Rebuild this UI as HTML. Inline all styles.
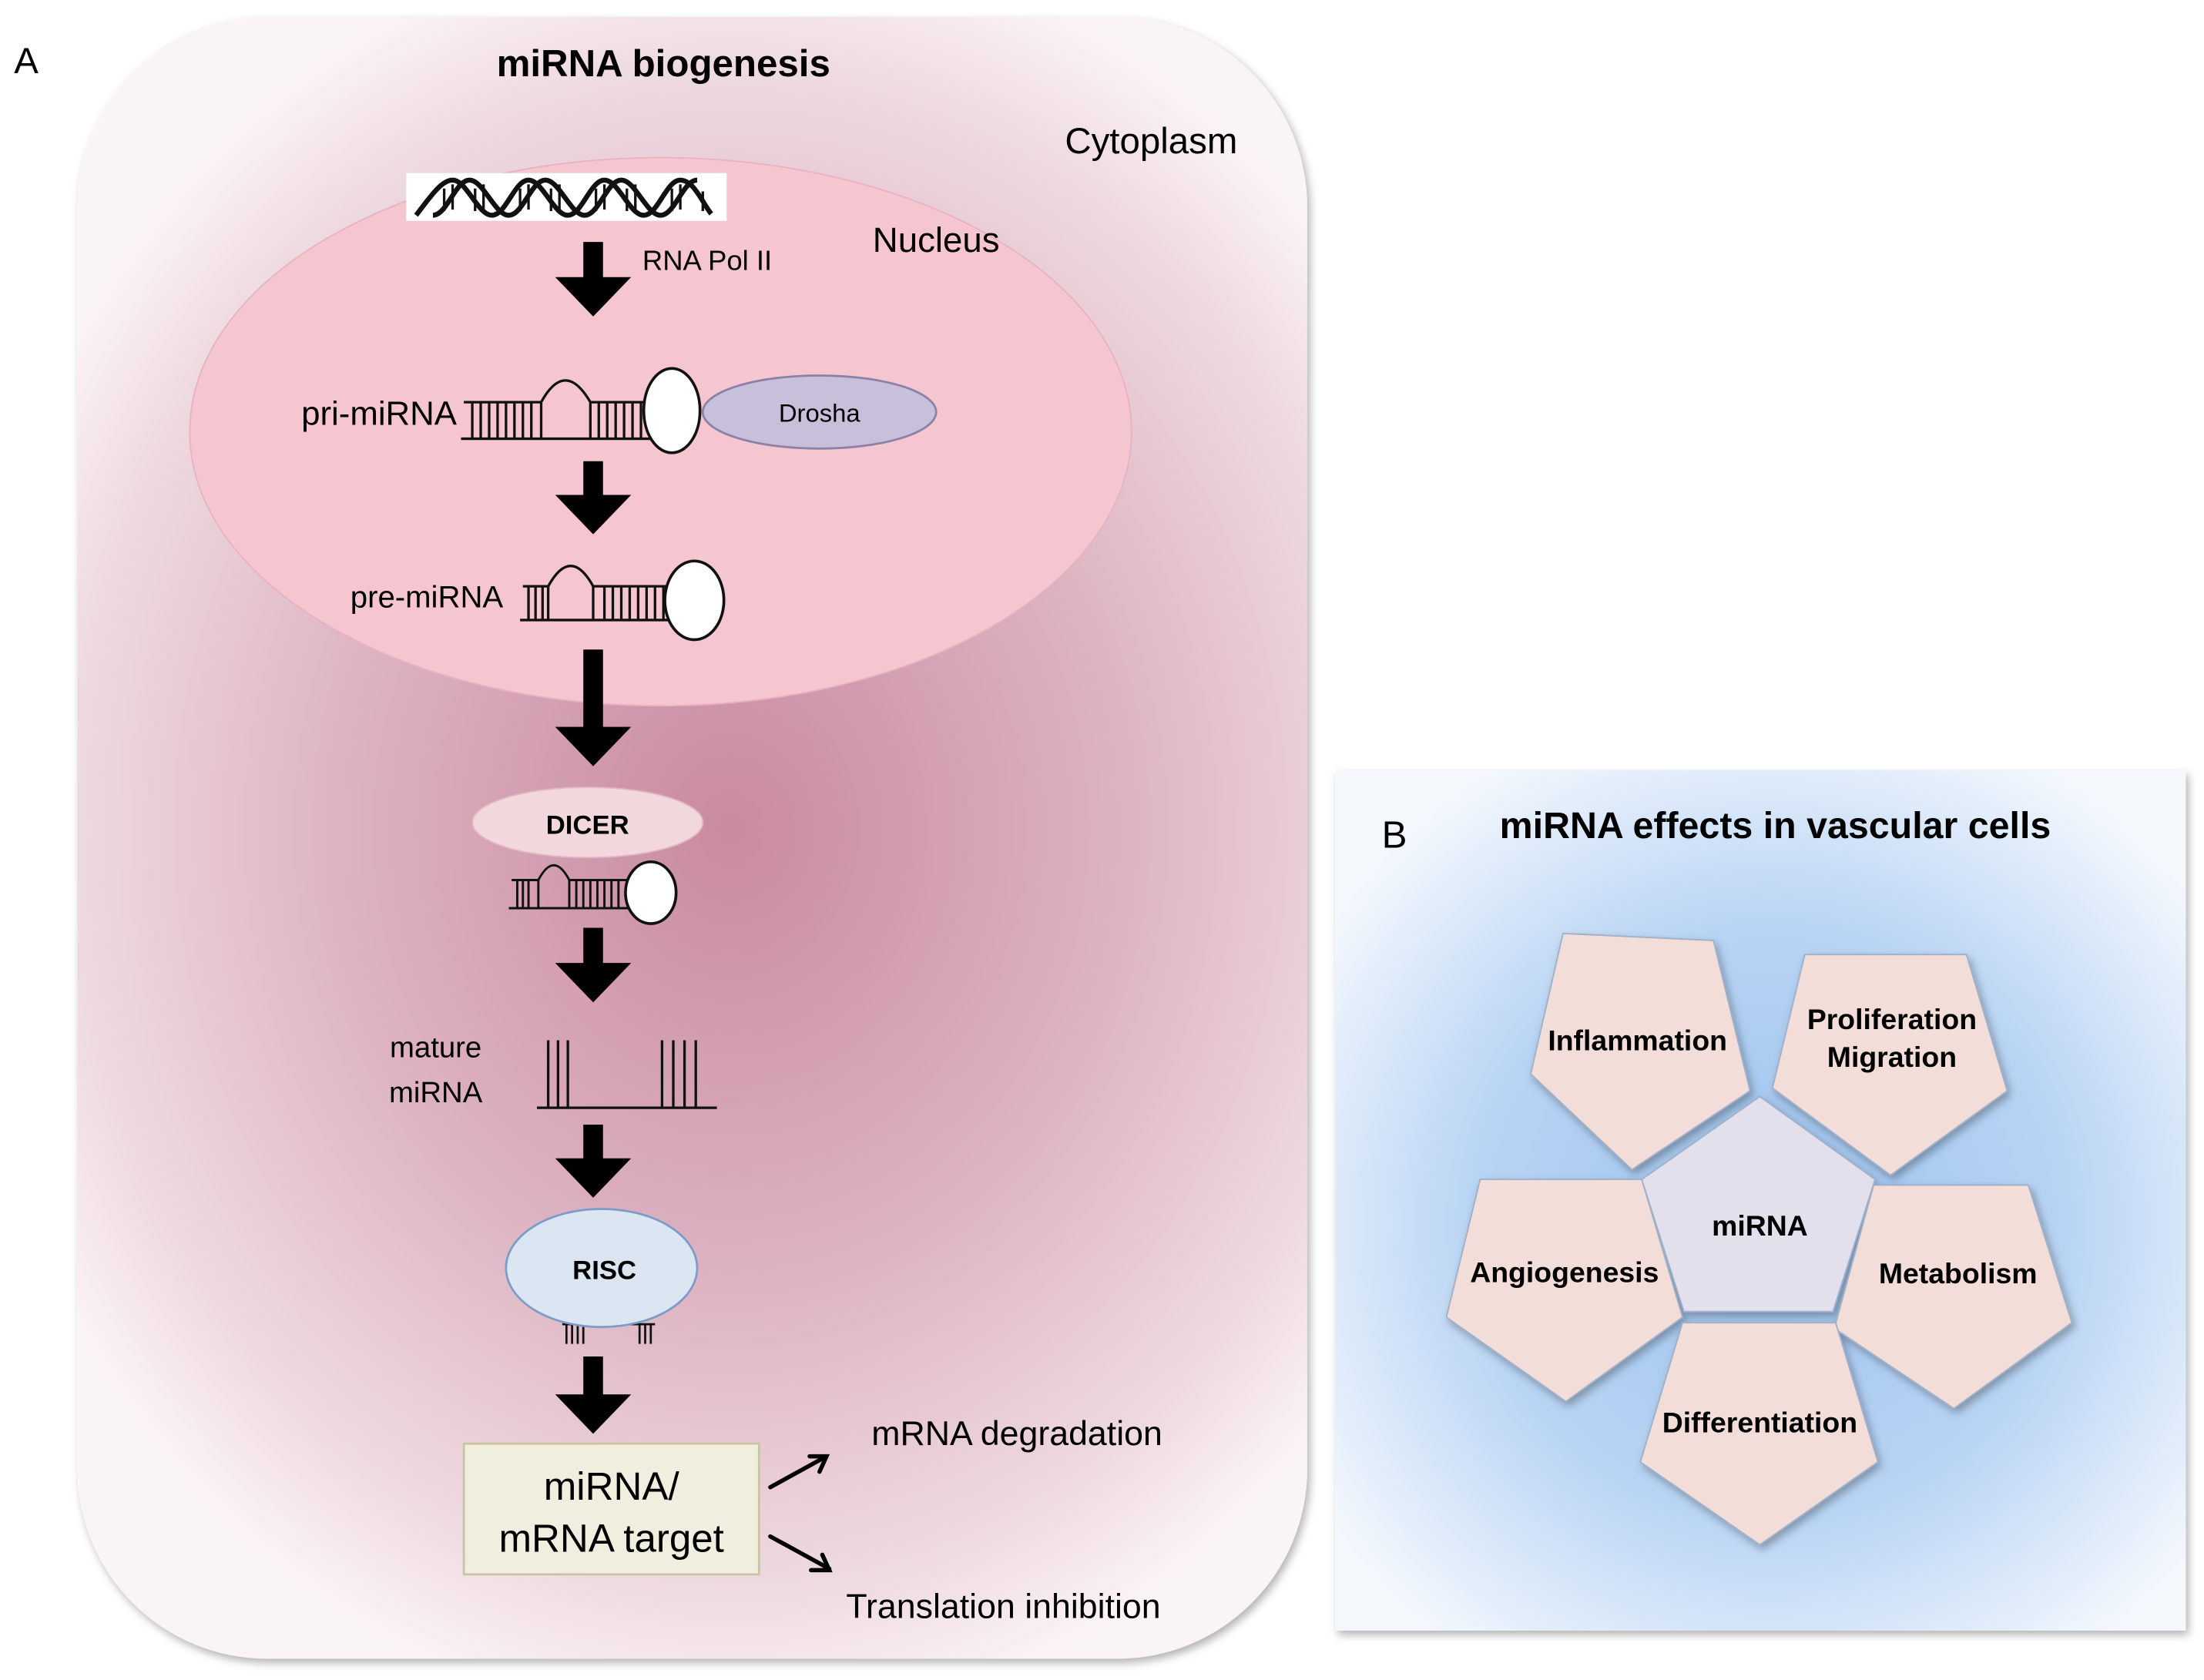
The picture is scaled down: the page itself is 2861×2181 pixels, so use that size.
<!DOCTYPE html>
<html><head><meta charset="utf-8"><style>html,body{margin:0;padding:0;background:#fff}svg{display:block}</style></head>
<body>
<svg width="2861" height="2181" viewBox="0 0 1568 1195" xmlns="http://www.w3.org/2000/svg" font-family="Liberation Sans, sans-serif">
<defs>
<radialGradient id="cg" cx="520" cy="590" r="560" gradientUnits="userSpaceOnUse" gradientTransform="translate(520 590) scale(1 1.15) translate(-520 -590)">
<stop offset="0" stop-color="#c98aa0"/><stop offset="0.5" stop-color="#ddb3c2"/><stop offset="0.85" stop-color="#efdbe2"/><stop offset="1" stop-color="#fbf4f6"/></radialGradient>
<radialGradient id="bg" cx="1260" cy="870" r="380" gradientUnits="userSpaceOnUse">
<stop offset="0" stop-color="#9cc2ee"/><stop offset="0.55" stop-color="#b8d4f4"/><stop offset="1" stop-color="#f4f8fd"/></radialGradient>
<filter id="sh" x="-5%" y="-5%" width="110%" height="110%"><feDropShadow dx="2" dy="3" stdDeviation="3" flood-color="#000" flood-opacity="0.3"/></filter>
</defs>
<text x="10" y="52" font-size="26">A</text>
<rect x="55" y="12" width="875" height="1168" rx="135" fill="url(#cg)" filter="url(#sh)"/>
<text x="472" y="54" font-size="27" font-weight="bold" text-anchor="middle">miRNA biogenesis</text>
<text x="819" y="109" font-size="26" text-anchor="middle">Cytoplasm</text>
<ellipse cx="470" cy="307" rx="335" ry="195" fill="#f5c5d0" stroke="#e8b2c0"/>
<text x="666" y="179" font-size="25" text-anchor="middle">Nucleus</text>
<rect x="289" y="123" width="228" height="34" fill="#fff"/>
<g fill="none" stroke="#111" stroke-width="3.5">
<path d="M296 153 C306 140 314 128 322 128 C332 128 340 153 350 153 C360 153 366 128 376 128 C386 128 394 153 404 153 C414 153 420 128 430 128 C440 128 448 153 458 153 C468 153 474 128 484 128 C494 128 500 145 506 152"/>
<path d="M308 153 C318 153 324 128 334 128 C344 128 352 153 362 153 C372 153 378 128 388 128 C398 128 406 153 416 153 C426 153 432 128 442 128 C452 128 460 153 470 153 C480 153 486 128 496 128"/>
</g>
<g stroke="#111" stroke-width="1.8">
<path d="M316 150V134 M322 149V131 M338 150V134 M344 149V131 M370 150V134 M376 149V131 M392 150V134 M398 149V131 M424 150V134 M430 149V131 M446 150V134 M452 149V131 M478 150V134 M484 149V131 M500 150V136"/>
</g>
<g fill="#000">
<path d="M415 172H429V197H449L422 225L395 197H415Z"/>
<path d="M415 328H429V352H449L422 380L395 352H415Z"/>
<path d="M415 462H429V517H449L422 545L395 517H415Z"/>
<path d="M415 660H429V685H449L422 713L395 685H415Z"/>
<path d="M415 800H429V824H449L422 852L395 824H415Z"/>
<path d="M415 965H429V992H449L422 1020L395 992H415Z"/>
</g>
<text x="457" y="192" font-size="20">RNA Pol II</text>
<!-- pri-miRNA -->
<text x="325" y="302" font-size="24" text-anchor="end">pri-miRNA</text>
<g fill="none" stroke="#111" stroke-width="1.8">
<path d="M328 312H470 M330 286H385 M420 286H462"/>
<path d="M385 312V286 Q402 255 420 286V312"/>
<path d="M336 312V286M342 312V286M348 312V286M354 312V286M360 312V286M366 312V286M372 312V286M378 312V286M426 312V286M432 312V286M438 312V286M444 312V286M450 312V286M456 312V286"/>
</g>
<ellipse cx="478" cy="292" rx="20" ry="30" fill="#fff" stroke="#111" stroke-width="2"/>
<ellipse cx="583" cy="293" rx="83" ry="26" fill="#c8c0da" stroke="#8a80a8" stroke-width="1.5"/>
<text x="583" y="300" font-size="18" text-anchor="middle">Drosha</text>
<!-- pre-miRNA -->
<text x="358" y="432" font-size="22" text-anchor="end">pre-miRNA</text>
<g fill="none" stroke="#111" stroke-width="1.8">
<path d="M370 441H490 M372 417H390 M422 417H480"/>
<path d="M390 441V417 Q406 388 422 417V441"/>
<path d="M376 441V417M381 441V417M386 441V417M430 441V417M436 441V417M442 441V417M448 441V417M454 441V417M460 441V417M466 441V417M472 441V417"/>
</g>
<ellipse cx="494" cy="427" rx="21" ry="28" fill="#fff" stroke="#111" stroke-width="2"/>
<!-- DICER -->
<ellipse cx="418" cy="585" rx="82" ry="25" fill="#f2d8dc" stroke="#e0b8c0"/>
<text x="418" y="593" font-size="19" font-weight="bold" text-anchor="middle">DICER</text>
<g fill="none" stroke="#111" stroke-width="1.6">
<path d="M362 646H458 M364 626H383 M405 626H450"/>
<path d="M383 646V626 Q394 605 405 626V646"/>
<path d="M368 646V626M372 646V626M376 646V626M410 646V626M415 646V626M420 646V626M425 646V626M430 646V626M435 646V626M440 646V626"/>
</g>
<ellipse cx="463" cy="635" rx="18" ry="22" fill="#fff" stroke="#111" stroke-width="2"/>
<!-- mature -->
<text x="310" y="752" font-size="21" text-anchor="middle">mature</text>
<text x="310" y="784" font-size="21" text-anchor="middle">miRNA</text>
<g stroke="#111" stroke-width="1.8" fill="none">
<path d="M382 788H510"/>
<path d="M390 788V740M397 788V740M404 788V740M471 788V740M479 788V740M487 788V740M495 788V740"/>
</g>
<!-- RISC -->
<g stroke="#111" stroke-width="1.5" fill="none">
<path d="M400 942H420M448 942H466M403 942V956M407 942V956M411 942V956M415 942V956M455 942V956M459 942V956M463 942V956"/>
</g>
<ellipse cx="428" cy="902" rx="68" ry="42" fill="#dce6f2" stroke="#7a9cc8" stroke-width="1.5"/>
<text x="430" y="910" font-size="19" font-weight="bold" text-anchor="middle">RISC</text>
<!-- target box -->
<rect x="330" y="1027" width="210" height="93" fill="#f0eedf" stroke="#c8c4a0" stroke-width="1.5"/>
<text x="435" y="1067" font-size="28" text-anchor="middle">miRNA/</text>
<text x="435" y="1104" font-size="28" text-anchor="middle">mRNA target</text>
<g stroke="#000" stroke-width="3" fill="none" stroke-linecap="round">
<path d="M548 1058L588 1036M576 1036H588L583 1047"/>
<path d="M548 1093L590 1116M577 1117H590L585 1106"/>
</g>
<text x="620" y="1028" font-size="24.5">mRNA degradation</text>
<text x="602" y="1151" font-size="24.5">Translation inhibition</text>
<!-- Panel B -->
<rect x="950" y="548" width="605" height="612" fill="url(#bg)" filter="url(#sh)"/>
<text x="983" y="603" font-size="27">B</text>
<text x="1263" y="596" font-size="26.5" font-weight="bold" text-anchor="middle">miRNA effects in vascular cells</text>
<g stroke="#9fb0c8" stroke-width="1" filter="url(#sh)">
<polygon points="1112,664 1219,669 1245,776 1161,832 1089,764" fill="#f2ddd8"/>
<polygon points="1284,679 1399,679 1428,776 1345,836 1261,774" fill="#f2ddd8"/>
<polygon points="1053,839 1168,839 1197,937 1114,997 1029,937" fill="#f2ddd8"/>
<polygon points="1333,843 1443,843 1474,941 1390,1002 1305,945" fill="#f2ddd8"/>
<polygon points="1197,941 1306,941 1336,1040 1252,1099 1167,1040" fill="#f2ddd8"/>
<polygon points="1252,780 1334,839 1304,933 1198,933 1168,839" fill="#e2e0ec"/>
</g>
<g font-size="20.5" font-weight="bold" text-anchor="middle">
<text x="1165" y="747">Inflammation</text>
<text x="1346" y="732">Proliferation</text>
<text x="1346" y="759">Migration</text>
<text x="1252" y="879">miRNA</text>
<text x="1113" y="912">Angiogenesis</text>
<text x="1393" y="913">Metabolism</text>
<text x="1252" y="1019">Differentiation</text>
</g>
</svg>
</body></html>
